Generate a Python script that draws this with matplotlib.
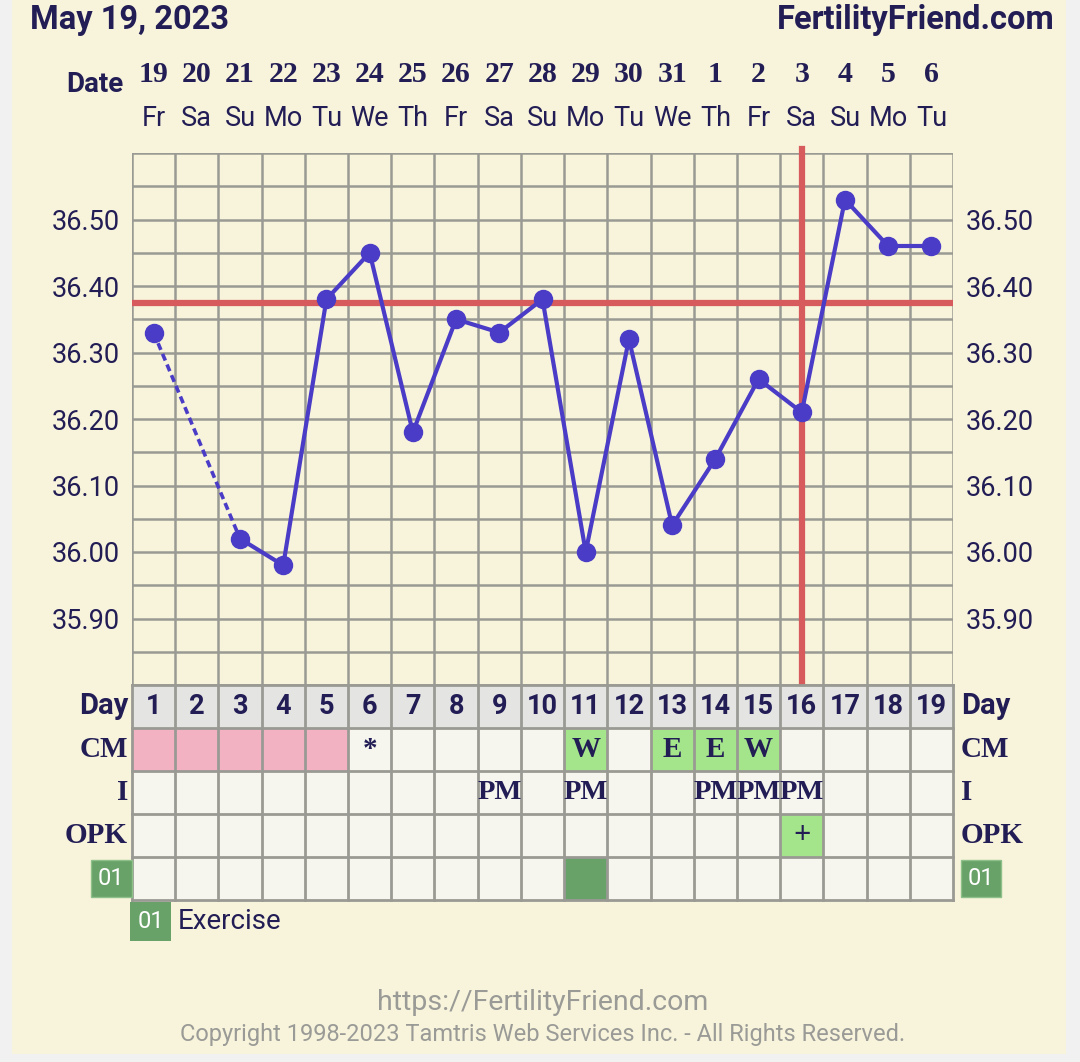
import matplotlib.pyplot as plt
import matplotlib.transforms as mtransforms
from matplotlib.patches import Rectangle

# chart data
cycle_days = list(range(1, 20))
dates = ['19', '20', '21', '22', '23', '24', '25', '26', '27', '28', '29', '30', '31',
         '1', '2', '3', '4', '5', '6']
weekdays = ['Fr', 'Sa', 'Su', 'Mo', 'Tu', 'We', 'Th', 'Fr', 'Sa', 'Su', 'Mo', 'Tu', 'We',
            'Th', 'Fr', 'Sa', 'Su', 'Mo', 'Tu']
temps = [36.33, None, 36.02, 35.98, 36.38, 36.45, 36.18, 36.35, 36.33, 36.38, 36.00,
         36.32, 36.04, 36.14, 36.26, 36.21, 36.53, 36.46, 36.46]
temp_ticks = [35.90, 36.00, 36.10, 36.20, 36.30, 36.40, 36.50]
coverline = 36.375
ovulation_day = 16
period_days = [1, 2, 3, 4, 5]
cm = ['', '', '', '', '', '*', '', '', '', '', 'W', '', 'E', 'E', 'W', '', '', '', '']
intercourse = ['', '', '', '', '', '', '', '', 'PM', '', 'PM', '', '', 'PM', 'PM', 'PM', '', '', '']
opk = ['', '', '', '', '', '', '', '', '', '', '', '', '', '', '', '+', '', '', '']
exercise_days = [11]
row_labels = ['Day', 'CM', 'I', 'OPK']

W, H = 1080, 1062
navy = '#221d55'
grid_c = '#9a9a94'
line_c = '#4a3cc6'
red = '#d75a5c'
cream = '#f8f4dc'
cell_bg = '#f6f6ef'
green_lt = '#a4e48a'
green_dk = '#68a268'
pink = '#f3b2c2'
slab = 'Liberation Serif'

fig = plt.figure(figsize=(W / 100, H / 100), dpi=100)
fig.patch.set_facecolor('#f1f1f1')
fig.patches.append(Rectangle((12 / W, 1 - 1054 / H), 1054 / W, 1054 / H,
                             transform=fig.transFigure, fc=cream, ec='none', zorder=-10))


def fy(py):
    return 1 - py / H


left, right = 132 / W, 953 / W
ax = fig.add_axes([left, fy(685), right - left, (685 - 153) / H])
ax.set_facecolor(cream)
ax.set_xlim(0.5, 19.5)
ax.set_ylim(35.80, 36.60)
for s in ax.spines.values():
    s.set_visible(False)

# grid
for b in range(len(cycle_days) + 1):
    ax.axvline(b + 0.5, color=grid_c, lw=1.8, zorder=1)
k = 0
while 35.80 + k * 0.05 <= 36.601:
    ax.axhline(35.80 + k * 0.05, color=grid_c, lw=1.8, zorder=1)
    k += 1

ax.set_xticks([])
ax.set_yticks(temp_ticks)
ax.set_yticklabels(['%.2f' % t for t in temp_ticks])
ax.tick_params(axis='y', length=0, labelsize=19.5, labelcolor=navy, labelright=True, pad=9)
for t in ax.yaxis.get_major_ticks():
    t.label1.set_fontfamily('Roboto')
    t.label2.set_fontfamily('Roboto')

# coverline and ovulation
ax.axhline(coverline, color=red, lw=4.5, zorder=2)
ax.axvline(ovulation_day, ymin=-0.005, ymax=1.008, color=red, lw=4.5, zorder=2, clip_on=False)

# temperature line
pts = [(d, t) for d, t in zip(cycle_days, temps) if t is not None]
for (d0, t0), (d1, t1) in zip(pts[:-1], pts[1:]):
    if d1 - d0 > 1:
        ax.plot([d0, d1], [t0, t1], color=line_c, lw=2.6, ls=(0, (2, 1.2)), zorder=3)
    else:
        ax.plot([d0, d1], [t0, t1], color=line_c, lw=3, zorder=3)
ax.plot([p[0] for p in pts], [p[1] for p in pts], 'o', color=line_c, ms=13, zorder=4)

# header row text
tr = mtransforms.blended_transform_factory(ax.transData, fig.transFigure)
for d, dt, wd in zip(cycle_days, dates, weekdays):
    ax.text(d, fy(74), dt, transform=tr, ha='center', va='center', fontsize=21.5,
            fontweight='bold', color=navy, family=slab)
    ax.text(d, fy(118), wd, transform=tr, ha='center', va='center', fontsize=19.5,
            color=navy, family='Roboto')
fig.text(123 / W, fy(84), 'Date', ha='right', va='center', fontsize=20,
         fontweight='bold', color=navy, family='Roboto')
fig.text(30 / W, fy(20), 'May 19, 2023', ha='left', va='center', fontsize=23.5,
         fontweight='bold', color=navy, family='Roboto')
fig.text(1055 / W, fy(20), 'FertilityFriend.com', ha='right', va='center', fontsize=23.5,
         fontweight='bold', color=navy, family='Roboto')

# table
tab = fig.add_axes([left, fy(900), right - left, (900 - 685) / H])
tab.set_xlim(0.5, 19.5)
tab.set_ylim(5, 0)
tab.axis('off')
for i, d in enumerate(cycle_days):
    tab.add_patch(Rectangle((d - 0.5, 0), 1, 1, fc='#e4e4e2', ec='none'))
    tab.text(d, 0.5, str(d), ha='center', va='center', fontsize=19.5, fontweight='bold',
             color=navy, family='Roboto')
    for r in range(1, 5):
        fc = cell_bg
        if r == 1 and d in period_days:
            fc = pink
        if r == 1 and cm[i] in ('W', 'E'):
            fc = green_lt
        if r == 3 and opk[i]:
            fc = green_lt
        if r == 4 and d in exercise_days:
            fc = green_dk
        tab.add_patch(Rectangle((d - 0.5, r), 1, 1, fc=fc, ec='none'))
    if cm[i]:
        tab.text(d, 1.5, cm[i], ha='center', va='center', fontsize=21, fontweight='bold',
                 color=navy, family=slab)
    if intercourse[i]:
        tab.text(d, 2.5, intercourse[i], ha='center', va='center', fontsize=20.5,
                 fontweight='bold', color=navy, family=slab)
    if opk[i]:
        tab.text(d, 3.5, opk[i], ha='center', va='center', fontsize=22, fontweight='bold',
                 color=navy, family=slab)
for b in range(len(cycle_days) + 1):
    tab.plot([b + 0.5, b + 0.5], [0, 5], color=grid_c, lw=2, clip_on=False)
for r in range(6):
    tab.plot([0.5, 19.5], [r, r], color=grid_c, lw=2, clip_on=False)

for r, lab in enumerate(row_labels):
    fam = 'Roboto' if lab == 'Day' else slab
    tab.text(0.41, r + 0.5, lab, ha='right', va='center', fontsize=21, fontweight='bold',
             color=navy, family=fam)
    tab.text(19.68, r + 0.5, lab, ha='left', va='center', fontsize=21, fontweight='bold',
             color=navy, family=fam)
box = dict(boxstyle='square,pad=0.3', fc=green_dk, ec='#8ec08a', lw=1)
tab.text(0.33, 4.5, '01', ha='right', va='center', fontsize=17, color='white',
         family='Roboto', bbox=box)
tab.text(19.84, 4.5, '01', ha='left', va='center', fontsize=17, color='white',
         family='Roboto', bbox=box)
tab.text(0.62, 5.5, '01', ha='left', va='center', fontsize=17, color='white',
         family='Roboto', bbox=dict(boxstyle='square,pad=0.32', fc=green_dk, ec='none'))
tab.text(1.55, 5.5, 'Exercise', ha='left', va='center', fontsize=20, color=navy,
         family='Roboto')

# footer
fig.text(543 / W, fy(1002), 'https://FertilityFriend.com', ha='center', va='center',
         fontsize=20.5, color='#9a9a96', family='Roboto')
fig.text(543 / W, fy(1034), 'Copyright 1998-2023 Tamtris Web Services Inc. - All Rights Reserved.',
         ha='center', va='center', fontsize=17, color='#9a9a96', family='Roboto')

fig.savefig('out.png', dpi=100, facecolor=fig.get_facecolor())
